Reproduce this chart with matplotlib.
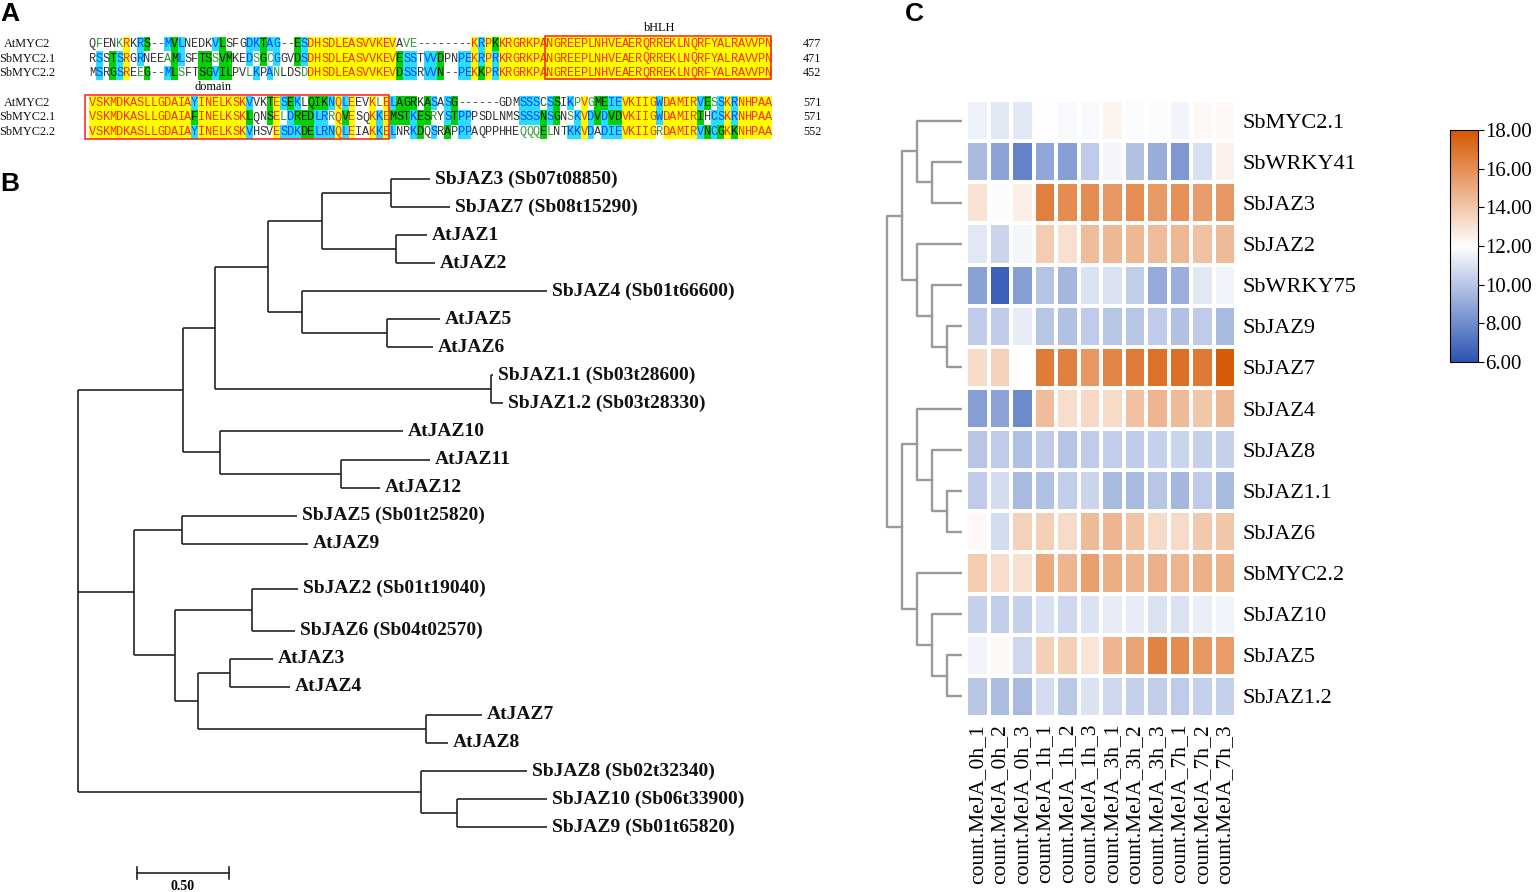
import numpy as np
import matplotlib
matplotlib.use("Agg")
import matplotlib.pyplot as plt
from matplotlib.patches import Rectangle
from matplotlib.colors import LinearSegmentedColormap

W, H = 1536, 892

# --------------------------
# Panel A data: MYC2 alignment
# --------------------------
seq_names = ["AtMYC2", "SbMYC2.1", "SbMYC2.2"]
block1_seqs = [
    "QFENKRKRS--MVLNEDKVLSFGDKTAG--ESDHSDLEASVVKEVAVE--------KRPKKRGRKPANGREEPLNHVEAERQRREKLNQRFYALRAVVPN",
    "RSSTSRGRNEEAMLSFTSSVMKEDSGCGGVDSDHSDLEASVVKEVESSTVVDPNPEKRPRKRGRKPANGREEPLNHVEAERQRREKLNQRFYALRAVVPN",
    "MSRGSREEG--MLSFTSGVILPVLKPANLDSDDHSDLEASVVKEVDSSRVVN--PEKKPRKRGRKPANGREEPLNHVEAERQRREKLNQRFYALRAVVPN",
]
block2_seqs = [
    "VSKMDKASLLGDAIAYINELKSKVVKTESEKLQIKNQLEEVKLELAGRKASASG------GDMSSSCSSIKPVGMEIEVKIIGWDAMIRVESSKRNHPAA",
    "VSKMDKASLLGDAIAFINELKSKLQNSELDREDLRRQVESQKKEMSTKESRYSTPPPSDLNMSSSSNSGNSKVDVDVDVKIIGWDAMIRIHCSKRNHPAA",
    "VSKMDKASLLGDAIAYINELKSKVHSVESDKDELRNQLEIAKKELNRKDQSRAPPPAQPPHHEQQQELNTKKVDADIEVKIIGRDAMIRVNCGKKNHPAA",
]
block1_ends = [477, 471, 452]
block2_ends = [571, 571, 552]
bhlh_cols = (67, 100)     # boxed columns in block 1
domain_cols = (0, 44)     # boxed columns in block 2
similar_groups = ["ILVM", "KRH", "DENQ", "STAG", "FYW", "P", "C"]

# --------------------------
# Panel B data: JAZ phylogeny (Newick)
# --------------------------
jaz_newick = ("((((((SbJAZ3:0.212,SbJAZ7:0.321):0.375,(AtJAZ1:0.168,AtJAZ2:0.212):0.402):0.293,"
              "(SbJAZ4:1.332,(AtJAZ5:0.288,AtJAZ6:0.250):0.462):0.185):0.288,"
              "(SbJAZ1.1:0.01,SbJAZ1.2:0.065):1.5):0.174,"
              "(AtJAZ10:0.995,(AtJAZ11:0.484,AtJAZ12:0.212):0.658):0.201):0.571,"
              "((SbJAZ5:0.625,AtJAZ9:0.685):0.261,((SbJAZ2:0.25,SbJAZ6:0.234):0.418,"
              "((AtJAZ3:0.234,AtJAZ4:0.326):0.174,(AtJAZ7:0.304,AtJAZ8:0.12):1.239):0.125):0.223):0.304,"
              "(SbJAZ8:0.576,(SbJAZ10:0.489,SbJAZ9:0.489):0.196):1.864);")
sb_gene_ids = {
    "SbJAZ3": "Sb07t08850", "SbJAZ7": "Sb08t15290", "SbJAZ4": "Sb01t66600",
    "SbJAZ1.1": "Sb03t28600", "SbJAZ1.2": "Sb03t28330", "SbJAZ5": "Sb01t25820",
    "SbJAZ2": "Sb01t19040", "SbJAZ6": "Sb04t02570", "SbJAZ8": "Sb02t32340",
    "SbJAZ10": "Sb06t33900", "SbJAZ9": "Sb01t65820",
}
extra_leaf_gap = {"SbJAZ2": 0.6, "SbJAZ6": 0.5}
scale_bar_len = 0.50

# --------------------------
# Panel C data: expression heatmap
# --------------------------
samples = ["count.MeJA_0h_1", "count.MeJA_0h_2", "count.MeJA_0h_3",
           "count.MeJA_1h_1", "count.MeJA_1h_2", "count.MeJA_1h_3",
           "count.MeJA_3h_1", "count.MeJA_3h_2", "count.MeJA_3h_3",
           "count.MeJA_7h_1", "count.MeJA_7h_2", "count.MeJA_7h_3"]
genes = ["SbMYC2.1", "SbWRKY41", "SbJAZ3", "SbJAZ2", "SbWRKY75", "SbJAZ9", "SbJAZ7",
         "SbJAZ4", "SbJAZ8", "SbJAZ1.1", "SbJAZ6", "SbMYC2.2", "SbJAZ10", "SbJAZ5", "SbJAZ1.2"]
expr = [
    [11.5, 11.2, 11.2, 12.0, 11.8, 11.8, 12.4, 11.9, 11.9, 11.6, 12.2, 12.2],
    [9.6, 8.8, 7.6, 8.9, 8.6, 10.2, 11.7, 9.8, 9.1, 8.4, 10.9, 12.5],
    [13.0, 11.9, 12.6, 16.5, 16.1, 16.1, 15.7, 16.0, 15.6, 15.9, 15.5, 15.7],
    [11.2, 10.5, 11.7, 13.8, 13.1, 14.3, 14.5, 14.5, 14.3, 14.5, 14.2, 14.4],
    [8.7, 6.5, 8.6, 9.9, 9.5, 11.0, 11.0, 10.3, 9.0, 9.2, 11.2, 11.6],
    [10.2, 10.2, 11.3, 10.0, 9.8, 10.2, 10.0, 10.0, 10.2, 9.8, 10.2, 9.6],
    [13.3, 13.6, 12.0, 16.6, 16.5, 15.7, 16.3, 16.6, 17.0, 17.1, 16.7, 17.8],
    [8.6, 8.8, 7.9, 14.3, 13.2, 13.4, 13.3, 14.2, 14.6, 14.4, 14.0, 14.5],
    [10.0, 10.2, 9.8, 10.2, 9.9, 10.2, 10.3, 10.2, 10.4, 10.5, 10.4, 10.4],
    [10.2, 10.8, 9.6, 9.8, 10.3, 10.5, 9.6, 9.6, 10.0, 9.5, 10.2, 9.6],
    [12.2, 10.8, 13.6, 13.7, 13.3, 14.4, 14.6, 14.1, 13.3, 13.3, 13.9, 14.0],
    [13.8, 13.2, 13.1, 15.0, 14.6, 15.4, 14.9, 14.6, 14.8, 14.6, 14.8, 14.7],
    [10.4, 10.3, 10.4, 10.9, 10.6, 11.0, 11.3, 11.3, 11.0, 11.0, 11.4, 11.6],
    [11.6, 12.2, 10.6, 13.7, 13.7, 12.9, 14.6, 15.2, 16.4, 16.1, 15.7, 15.5],
    [10.0, 9.7, 9.6, 10.8, 10.1, 11.0, 10.6, 10.4, 10.3, 10.2, 10.4, 10.4],
]
# row dendrogram merges: (left, right, height); ints refer to earlier merges
row_merges = [
    ("SbWRKY41", "SbJAZ3", 2),
    ("SbMYC2.1", 0, 3),
    ("SbJAZ9", "SbJAZ7", 1),
    ("SbWRKY75", 2, 2),
    ("SbJAZ2", 3, 3),
    (1, 4, 4),
    ("SbJAZ1.1", "SbJAZ6", 1),
    ("SbJAZ8", 6, 2),
    ("SbJAZ4", 7, 3),
    ("SbJAZ5", "SbJAZ1.2", 1),
    ("SbJAZ10", 9, 2),
    ("SbMYC2.2", 10, 3),
    (8, 11, 4),
    (5, 12, 5),
]
cbar_ticks = [6, 8, 10, 12, 14, 16, 18]

SERIF = "Liberation Serif"
MONO = "Liberation Mono"
SANS = "Liberation Sans"


def fig_rect(x0, y0, x1, y1):
    return [x0 / W, 1 - y1 / H, (x1 - x0) / W, (y1 - y0) / H]


def group_of(c):
    for g in similar_groups:
        if c in g:
            return g
    return c


def column_styles(col):
    """Return (background, text colour) for each residue of one column."""
    if col[0] != "-" and col.count(col[0]) == len(col):
        return [("#ffff00", "#ff2a00")] * len(col)
    out = []
    for k, c in enumerate(col):
        others = [o for j, o in enumerate(col) if j != k and o != "-"]
        if c == "-":
            out.append((None, "#444444"))
        elif col.count(c) >= 2:
            out.append(("#2adcff", "#0046ff"))
        elif any(group_of(o) == group_of(c) for o in others):
            out.append(("#00d400", "#111111"))
        elif any(col.count(o) >= 2 for o in others):
            out.append((None, "#2f9a2f"))
        else:
            out.append((None, "#333333"))
    return out


def draw_block(ax, seqs, ends, row_ys, x0=89.0, cw=6.83):
    rh = 14.6
    for i in range(len(seqs[0])):
        col = [s[i] for s in seqs]
        styles = column_styles(col)
        cx = x0 + (i + 0.5) * cw
        for r, (bg, fg) in enumerate(styles):
            y = row_ys[r]
            if bg is not None:
                ax.add_patch(Rectangle((x0 + i * cw, y - rh / 2), cw, rh,
                                       facecolor=bg, edgecolor="none", zorder=1))
            ax.text(cx, y, col[r], ha="center", va="center", fontsize=8.6,
                    family=MONO, color=fg, zorder=2)
    for r, name in enumerate(seq_names):
        ax.text(27, row_ys[r], name, ha="center", va="center", fontsize=8.8,
                family=SERIF, color="#111111")
        ax.text(803, row_ys[r], str(ends[r]), ha="left", va="center", fontsize=8.8,
                family=SERIF, color="#111111")


def parse_newick(s):
    s = s.strip().rstrip(";")
    pos = 0

    def node():
        nonlocal pos
        children = []
        if s[pos] == "(":
            pos += 1
            while True:
                children.append(node())
                if s[pos] == ",":
                    pos += 1
                    continue
                pos += 1
                break
        start = pos
        while pos < len(s) and s[pos] not in ",():":
            pos += 1
        name = s[start:pos]
        length = 0.0
        if pos < len(s) and s[pos] == ":":
            pos += 1
            start = pos
            while pos < len(s) and s[pos] not in ",()":
                pos += 1
            length = float(s[start:pos])
        return {"name": name, "len": length, "children": children}

    return node()


fig = plt.figure(figsize=(W / 100, H / 100), dpi=100)
ax0 = fig.add_axes([0, 0, 1, 1])
ax0.set_xlim(0, W)
ax0.set_ylim(H, 0)
ax0.axis("off")

# --------------------------
# Panel A
# --------------------------
draw_block(ax0, block1_seqs, block1_ends, [44, 58.5, 73])
draw_block(ax0, block2_seqs, block2_ends, [103, 117.5, 132])
cw = 6.83
ax0.add_patch(Rectangle((89 + bhlh_cols[0] * cw - 2, 36), (bhlh_cols[1] - bhlh_cols[0]) * cw + 1, 43,
                        facecolor="none", edgecolor="#ff1a1a", lw=1.1, zorder=3))
ax0.text(89 + (bhlh_cols[0] + bhlh_cols[1]) / 2 * cw, 28, "bHLH", ha="center", va="center",
         fontsize=8.8, family=SERIF)
ax0.add_patch(Rectangle((89 + domain_cols[0] * cw - 4, 95), (domain_cols[1] - domain_cols[0]) * cw + 3, 44,
                        facecolor="none", edgecolor="#ff1a1a", lw=1.1, zorder=3))
ax0.text(213, 87, "domain", ha="center", va="center", fontsize=8.8, family=SERIF)

# --------------------------
# Panel B: tree
# --------------------------
tree = parse_newick(jaz_newick)
px_per_unit = 184.0
tree_x0, leaf_y0, leaf_step = 78.0, 179.0, 28.05
slot = [0.0]


def layout(n, depth):
    n["x"] = tree_x0 + (depth + n["len"]) * px_per_unit
    if not n["children"]:
        if slot[0] > 0:
            slot[0] += extra_leaf_gap.get(n["name"], 0.0)
        n["y"] = leaf_y0 + slot[0] * leaf_step
        slot[0] += 1
        return
    for c in n["children"]:
        layout(c, depth + n["len"])
    ys = [c["y"] for c in n["children"]]
    n["y"] = (min(ys) + max(ys)) / 2


def draw_tree(ax, n):
    if not n["children"]:
        label = n["name"]
        if label in sb_gene_ids:
            label += " (" + sb_gene_ids[label] + ")"
        ax.text(n["x"] + 5, n["y"], label, ha="left", va="center", fontsize=14,
                family=SERIF, fontweight="bold", color="#111111")
        return
    ys = [c["y"] for c in n["children"]]
    ax.plot([n["x"], n["x"]], [min(ys), max(ys)], color="#222222", lw=1.2, solid_capstyle="butt")
    for c in n["children"]:
        ax.plot([n["x"], c["x"]], [c["y"], c["y"]], color="#222222", lw=1.2, solid_capstyle="butt")
        draw_tree(ax, c)


layout(tree, 0.0)
draw_tree(ax0, tree)

sb_x0, sb_y = 137, 873
sb_x1 = sb_x0 + scale_bar_len * px_per_unit
ax0.plot([sb_x0, sb_x1], [sb_y, sb_y], color="#222222", lw=1.2)
ax0.plot([sb_x0, sb_x0], [sb_y - 6, sb_y + 6], color="#222222", lw=1.2)
ax0.plot([sb_x1, sb_x1], [sb_y - 6, sb_y + 6], color="#222222", lw=1.2)
ax0.text((sb_x0 + sb_x1) / 2, 886, f"{scale_bar_len:.2f}", ha="center", va="center",
         fontsize=10, family=SERIF, fontweight="bold")

# panel letters
for letter, (lx, ly) in {"A": (0, 14), "B": (0, 184), "C": (905, 14)}.items():
    ax0.text(lx, ly, letter, ha="left", va="center", fontsize=19, family=SANS, fontweight="bold")

# --------------------------
# Panel C: heatmap
# --------------------------
cmap = LinearSegmentedColormap.from_list("bwo", ["#2a54b2", "#ffffff", "#d65600"])
data = np.array(expr)
axh = fig.add_axes(fig_rect(966, 100, 1236, 717))
mesh = axh.pcolormesh(np.arange(len(samples) + 1), np.arange(len(genes) + 1), data,
                      cmap=cmap, vmin=6, vmax=18, edgecolors="white", linewidth=1.5)
axh.set_xlim(0, len(samples))
axh.set_ylim(len(genes), 0)
axh.set_xticks(np.arange(len(samples)) + 0.5)
axh.set_xticklabels(samples, rotation=90, fontsize=15.5, family=SERIF)
axh.set_yticks(np.arange(len(genes)) + 0.5)
axh.set_yticklabels(genes, fontsize=16, family=SERIF)
axh.yaxis.tick_right()
axh.tick_params(length=0, pad=5)
for sp in axh.spines.values():
    sp.set_visible(False)

# row dendrogram
axd = fig.add_axes(fig_rect(880, 100, 962, 717))
axd.set_xlim(5.47, 0)
axd.set_ylim(len(genes), 0)
axd.axis("off")
node_pos = []


def pos_of(ref):
    if isinstance(ref, int):
        return node_pos[ref]
    return (0.0, genes.index(ref) + 0.5)


for a, b, h in row_merges:
    (ha, ya), (hb, yb) = pos_of(a), pos_of(b)
    axd.plot([ha, h, h, hb], [ya, ya, yb, yb], color="#9a9a9a", lw=1.7)
    node_pos.append((h, (ya + yb) / 2))

# colour bar
cax = fig.add_axes(fig_rect(1450, 130, 1478, 362))
cb = fig.colorbar(mesh, cax=cax, ticks=cbar_ticks)
cb.ax.set_yticklabels([f"{t:.2f}" for t in cbar_ticks], fontsize=15, family=SERIF)
cb.ax.tick_params(length=4, width=0.8, pad=1)
cb.outline.set_linewidth(0.8)

fig.savefig("out.png", dpi=100)
